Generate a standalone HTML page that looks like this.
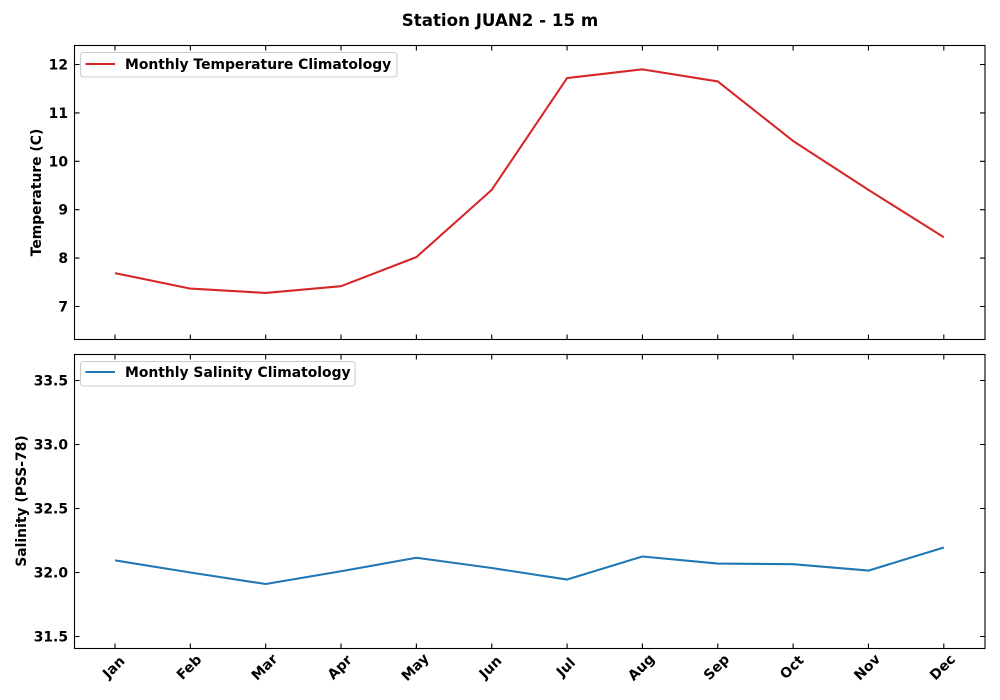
<!DOCTYPE html>
<html>
<head>
<meta charset="utf-8">
<title>Station JUAN2 - 15 m</title>
<style>
html,body{margin:0;padding:0;background:#fff;}
svg{display:block;}
text{font-family:"DejaVu Sans","Liberation Sans",sans-serif;font-weight:bold;fill:#000;}
</style>
</head>
<body>
<svg id="chart" xmlns="http://www.w3.org/2000/svg" width="1000" height="700" viewBox="0 0 1000 700">
  <rect x="0" y="0" width="1000" height="700" fill="#fff"/>
  <text x="500" y="26" text-anchor="middle" font-size="16.67">Station JUAN2 - 15 m</text>

  <g id="temp-panel"></g>
  <g id="sal-panel"></g>

  <text transform="translate(41,192.5) rotate(-90)" text-anchor="middle" font-size="13.9">Temperature (C)</text>
  <text transform="translate(26,501) rotate(-90)" text-anchor="middle" font-size="13.9">Salinity (PSS-78)</text>

  <g>
    <rect x="80.5" y="52.5" width="316.5" height="24.5" rx="3" fill="#fff" fill-opacity="0.8" stroke="#ccc" stroke-width="1.1"/>
    <line x1="85.5" x2="115" y1="64" y2="64" stroke="#d62728" stroke-width="2.08"/>
    <text x="125" y="69" font-size="13.9">Monthly Temperature Climatology</text>
  </g>
  <g>
    <rect x="80.5" y="361.5" width="274.5" height="24.5" rx="3" fill="#fff" fill-opacity="0.8" stroke="#ccc" stroke-width="1.1"/>
    <line x1="85.5" x2="115" y1="372" y2="372" stroke="#1f77b4" stroke-width="2.08"/>
    <text x="125" y="377" font-size="13.9">Monthly Salinity Climatology</text>
  </g>
</svg>
<script>
var months = ['Jan','Feb','Mar','Apr','May','Jun','Jul','Aug','Sep','Oct','Nov','Dec'];
var temperature = [7.69,7.37,7.28,7.42,8.02,9.41,11.72,11.9,11.65,10.42,9.41,8.43];
var salinity = [32.095,32.0,31.91,32.01,32.115,32.035,31.945,32.125,32.07,32.065,32.015,32.195];
var tempTicks = [7,8,9,10,11,12];
var salTicks = [31.5,32.0,32.5,33.0,33.5];
var salTickLabels = ['31.5','32.0','32.5','33.0','33.5'];

var NS = 'http://www.w3.org/2000/svg';
var LEFT = 74.5, RIGHT = 985;

function xScale(i) { return 115 + i * (943.8 - 115) / (months.length - 1); }
function tempY(v) { return 64.5 + (12 - v) * 48.4; }
function salY(v) { return 572.5 + (32 - v) * 128; }

function make(tag, parent, attrs) {
  var el = document.createElementNS(NS, tag);
  for (var k in attrs) el.setAttribute(k, attrs[k]);
  parent.appendChild(el);
  return el;
}

function drawPanel(parent, top, bottom, yFn, ticks, labels, values, color, prefix, showMonths) {
  var i, x, y, el;
  for (i = 0; i < months.length; i++) {
    x = xScale(i);
    el = make('path', parent, { d: 'M' + x + ' ' + top + 'v5M' + x + ' ' + bottom + 'v-5', stroke: '#000', 'stroke-width': 1.1, fill: 'none' });
    
    
  }
  for (i = 0; i < ticks.length; i++) {
    y = yFn(ticks[i]);
    el = make('path', parent, { d: 'M' + LEFT + ' ' + y + 'h5M' + RIGHT + ' ' + y + 'h-5', stroke: '#000', 'stroke-width': 1.1, fill: 'none' });
    
    
    el = make('text', parent, { x: 68, y: y + 5, 'text-anchor': 'end', 'font-size': 13.9 });
    el.textContent = labels[i];
    
    
  }
  var pts = values.map(function (v, j) { return xScale(j) + ',' + yFn(v); }).join(' ');
  el = make('polyline', parent, { points: pts, fill: 'none', stroke: color, 'stroke-width': 2.08, 'stroke-linejoin': 'round' });
  
  
  el = make('rect', parent, { x: LEFT, y: top, width: RIGHT - LEFT, height: bottom - top, fill: 'none', stroke: '#000', 'stroke-width': 1.1 });
  
  
  if (showMonths) {
    for (i = 0; i < months.length; i++) {
      x = xScale(i);
      el = make('text', parent, { transform: 'translate(' + (x + 2) + ',670.5) rotate(-45)', 'text-anchor': 'middle', 'font-size': 13.9 });
      el.textContent = months[i];
      
      
    }
  }
}

drawPanel(document.getElementById('temp-panel'), 45.5, 339.5, tempY, tempTicks, tempTicks.map(String), temperature, '#d62728', 'temperature', false);
drawPanel(document.getElementById('sal-panel'), 354.5, 648.5, salY, salTicks, salTickLabels, salinity, '#1f77b4', 'salinity', true);
</script>
</body>
</html>
